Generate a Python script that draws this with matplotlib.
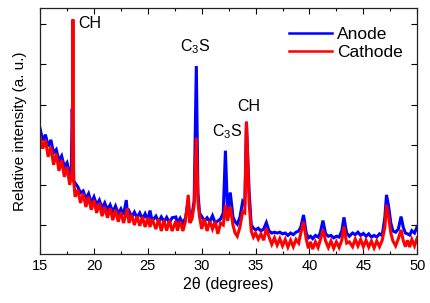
import matplotlib
matplotlib.use("Agg")
import matplotlib.pyplot as plt
from matplotlib.ticker import MultipleLocator, NullFormatter

plt.rcParams['font.family'] = ['Liberation Sans', 'DejaVu Sans']
plt.rcParams['mathtext.default'] = 'regular'

# 2-theta grid (degrees)
two_theta = [
    15.00, 15.25, 15.50, 15.75, 16.00, 16.25, 16.50, 16.75, 17.00, 17.25,
    17.50, 17.75, 17.90, 17.98, 18.05, 18.12, 18.25, 18.50, 18.75, 19.00,
    19.25, 19.50, 19.75, 20.00, 20.25, 20.50, 20.75, 21.00, 21.25, 21.50,
    21.75, 22.00, 22.25, 22.50, 22.75, 23.00, 23.10, 23.25, 23.50, 23.75,
    24.00, 24.25, 24.50, 24.75, 25.00, 25.20, 25.40, 25.75, 26.00, 26.25,
    26.50, 26.75, 27.00, 27.25, 27.60, 27.75, 28.00, 28.25, 28.50, 28.75,
    28.90, 29.10, 29.30, 29.50, 29.65, 29.80, 30.00, 30.25, 30.50, 30.75,
    31.00, 31.25, 31.50, 31.75, 32.00, 32.20, 32.40, 32.65, 32.90, 33.10,
    33.30, 33.55, 33.80, 34.00, 34.15, 34.40, 34.60, 34.80, 35.00, 35.25,
    35.50, 35.75, 36.00, 36.25, 36.50, 36.75, 37.00, 37.25, 37.50, 37.75,
    38.00, 38.25, 38.50, 38.75, 39.00, 39.20, 39.45, 39.70, 39.90, 40.10,
    40.30, 40.55, 40.80, 41.00, 41.25, 41.50, 41.75, 42.00, 42.25, 42.50,
    42.75, 43.00, 43.20, 43.45, 43.70, 44.00, 44.25, 44.50, 44.75, 45.00,
    45.25, 45.50, 45.75, 46.00, 46.25, 46.50, 46.75, 47.00, 47.15, 47.35,
    47.55, 47.75, 48.00, 48.25, 48.50, 48.70, 48.90, 49.10, 49.30, 49.50,
    49.75, 50.00,
]

anode = [
    3.40, 3.10, 3.25, 2.95, 3.12, 2.80, 2.88, 2.60, 2.72, 2.45,
    2.55, 2.25, 2.40, 3.90, 3.00, 2.10, 2.05, 1.95, 1.80, 1.85,
    1.65, 1.78, 1.55, 1.70, 1.50, 1.62, 1.42, 1.55, 1.38, 1.50,
    1.32, 1.47, 1.28, 1.40, 1.25, 1.62, 1.30, 1.35, 1.20, 1.32,
    1.18, 1.30, 1.15, 1.28, 1.12, 1.36, 1.10, 1.22, 1.08, 1.20,
    1.08, 1.19, 1.06, 1.18, 1.20, 1.05, 1.17, 1.04, 1.18, 1.62,
    1.10, 1.25, 1.60, 4.96, 1.80, 1.30, 1.21, 1.10, 1.18, 1.08,
    1.23, 1.05, 1.10, 1.15, 1.30, 2.85, 1.30, 1.81, 1.20, 1.08,
    1.02, 1.20, 1.58, 1.50, 3.54, 1.83, 1.00, 0.92, 0.88, 0.92,
    0.85, 0.90, 1.06, 0.85, 0.80, 0.82, 0.80, 0.82, 0.78, 0.80,
    0.74, 0.80, 0.76, 0.82, 0.85, 0.95, 1.25, 0.80, 0.68, 0.72,
    0.66, 0.74, 0.70, 0.80, 1.11, 0.78, 0.72, 0.74, 0.68, 0.72,
    0.70, 0.85, 1.19, 0.80, 0.72, 0.80, 0.76, 0.82, 0.74, 0.79,
    0.72, 0.78, 0.70, 0.74, 0.70, 0.78, 0.74, 1.20, 1.75, 1.46,
    1.05, 0.85, 0.82, 0.90, 1.21, 0.95, 0.80, 0.78, 0.75, 0.86,
    0.80, 0.96,
]

cathode = [
    3.20, 2.90, 3.12, 2.70, 2.95, 2.50, 2.78, 2.35, 2.62, 2.20,
    2.45, 2.00, 2.25, 2.30, 6.12, 2.10, 1.70, 1.88, 1.55, 1.78,
    1.45, 1.70, 1.38, 1.62, 1.30, 1.55, 1.22, 1.45, 1.18, 1.42,
    1.12, 1.38, 1.08, 1.32, 1.05, 1.30, 1.42, 1.05, 1.25, 1.00,
    1.22, 0.98, 1.20, 0.95, 1.18, 0.95, 1.15, 0.90, 1.15, 0.85,
    1.12, 0.86, 1.12, 0.85, 1.10, 0.86, 1.10, 0.85, 1.10, 1.75,
    1.05, 1.15, 1.50, 3.17, 1.60, 1.20, 0.90, 1.15, 0.85, 1.10,
    0.90, 1.08, 0.78, 1.05, 1.00, 1.50, 1.10, 1.46, 1.00, 0.80,
    0.72, 0.95, 1.33, 1.30, 3.58, 1.55, 0.85, 0.70, 0.80, 0.65,
    0.78, 0.62, 0.92, 0.70, 0.52, 0.68, 0.50, 0.66, 0.48, 0.64,
    0.45, 0.62, 0.46, 0.64, 0.55, 0.80, 1.08, 0.65, 0.42, 0.58,
    0.40, 0.58, 0.44, 0.62, 0.88, 0.60, 0.44, 0.60, 0.42, 0.58,
    0.44, 0.62, 0.96, 0.55, 0.58, 0.46, 0.65, 0.48, 0.64, 0.46,
    0.62, 0.45, 0.60, 0.43, 0.60, 0.46, 0.62, 0.95, 1.50, 1.20,
    0.80, 0.60, 0.48, 0.66, 0.88, 0.62, 0.46, 0.62, 0.45, 0.64,
    0.48, 0.68,
]

series_labels = ['Anode', 'Cathode']
peak_labels = ['CH', 'C$_3$S', 'C$_3$S', 'CH']
peak_label_x = [18.5, 28.0, 31.0, 33.3]
peak_label_y = [6.03, 5.43, 3.33, 3.95]

fig = plt.figure(figsize=(4.31, 3.03), dpi=100)
ax = fig.add_axes([0.093, 0.162, 0.875, 0.811])

ax.plot(two_theta, anode, color='#0000ff', lw=2.2, label=series_labels[0], solid_joinstyle='miter')
ax.plot(two_theta, cathode, color='#ff0000', lw=2.2, label=series_labels[1], solid_joinstyle='miter')

for txt, x, y in zip(peak_labels, peak_label_x, peak_label_y):
    ax.text(x, y, txt, fontsize=11.5, ha='left', va='center')

ax.set_xlim(15, 50)
ax.set_ylim(0.28, 6.4)
ax.xaxis.set_major_locator(MultipleLocator(5))
ax.xaxis.set_minor_locator(MultipleLocator(2.5))
ax.yaxis.set_major_locator(MultipleLocator(1))
ax.yaxis.set_major_formatter(NullFormatter())
ax.tick_params(which='both', direction='in', top=True, right=True, labelsize=10.5, width=0.8)
ax.tick_params(which='major', length=4)
ax.tick_params(which='minor', length=2.5)
ax.tick_params(axis='y', which='both', left=True, length=4.5)
for s in ax.spines.values():
    s.set_linewidth(0.9)
    s.set_color('#222222')

ax.set_xlabel('2θ (degrees)', fontsize=11.5, labelpad=3)
ax.set_ylabel('Relative intensity (a. u.)', fontsize=11, labelpad=6)

leg = ax.legend(loc='upper right', bbox_to_anchor=(0.995, 0.975), frameon=False,
                fontsize=12.5, handlelength=2.5, handletextpad=0.3, labelspacing=0.2,
                borderaxespad=0.3)
for line in leg.get_lines():
    line.set_linewidth(1.8)

fig.savefig('out.png', dpi=100)
